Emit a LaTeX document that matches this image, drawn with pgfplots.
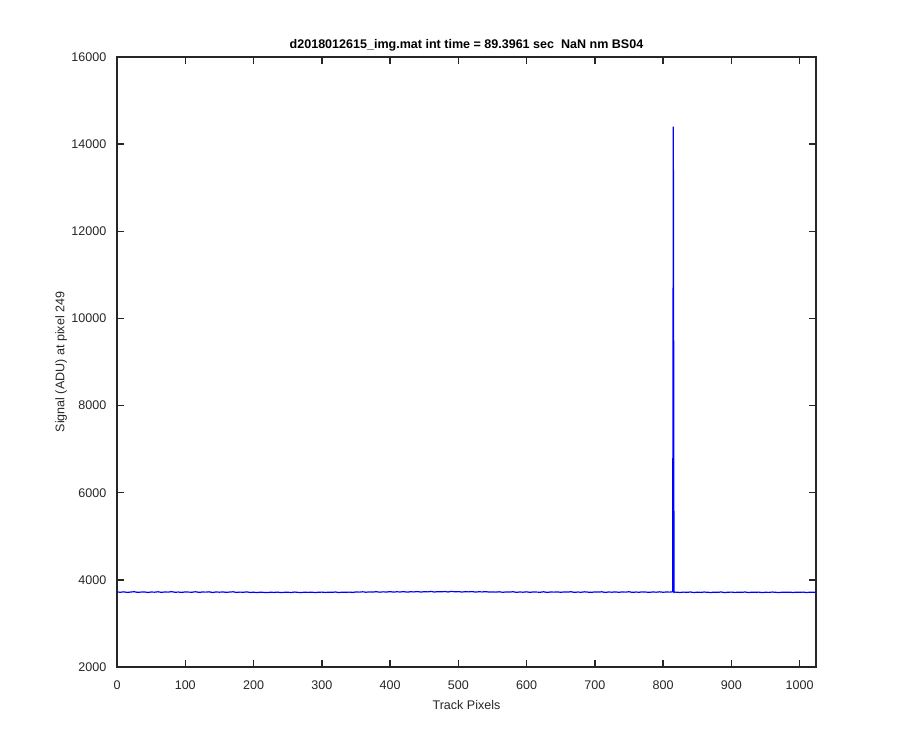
\documentclass[border=0pt]{standalone}
\usepackage{pgfplots}
\pgfplotsset{compat=1.18}
\usepackage{fontspec}
\setmainfont{Liberation Sans}
\definecolor{axgray}{gray}{0.15}
\begin{document}
\begin{tikzpicture}[x=1pt,y=1pt]
\path[use as bounding box] (0,0) rectangle (675,562.5);
\begin{axis}[
  at={(87.75pt,62.25pt)}, anchor=south west,
  scale only axis, width=524.25pt, height=457.5pt,
  xmin=0, xmax=1024, ymin=2000, ymax=16000,
  xtick={0,100,...,1000}, ytick={2000,4000,...,16000},
  tick align=inside, major tick length=5pt,
  axis line style={axgray, line width=1.1pt},
  every tick/.style={axgray, line width=1.1pt},
  tick label style={axgray},
  xticklabel style={yshift=-6.5pt},
  yticklabel style={xshift=-4.5pt},
  font=\fontsize{9.4}{11}\selectfont,
  /pgf/number format/assume math mode=true,
  /pgf/number format/1000 sep={},
  scaled ticks=false,
  xlabel={Track Pixels}, ylabel={Signal (ADU) at pixel 249},
  xlabel style={axgray, at={(axis description cs:0.5,-0.0623)}, anchor=center},
  ylabel style={axgray, at={(axis description cs:-0.080,0.5)}, anchor=center},
  title={\bfseries d2018012615\_img.mat int time = 89.3961 sec\ \ NaN nm BS04},
  title style={at={(axis description cs:0.5,1.0066)}, anchor=center},
]
\addplot[blue, line width=0.9pt, mark=none] coordinates {
(0,3722)(5,3716)(10,3725)(15,3712)(20,3720)(25,3728)(30,3714)(35,3719)(40,3724)(45,3711)(50,3721)(55,3717)(60,3726)(65,3713)(70,3722)(75,3718)(80,3729)(85,3715)(90,3720)(95,3712)(100,3724)(105,3719)(110,3716)(115,3727)(120,3713)(125,3721)(130,3718)(135,3725)(140,3710)(145,3722)(150,3717)(155,3723)(160,3714)(165,3720)(170,3726)(175,3712)(180,3719)(185,3715)(190,3724)(195,3711)
(200,3716)(205,3709)(210,3718)(215,3712)(220,3707)(225,3717)(230,3711)(235,3719)(240,3708)(245,3714)(250,3716)(255,3710)(260,3720)(265,3713)(270,3709)(275,3717)(280,3712)(285,3718)(290,3708)(295,3715)(300,3719)(305,3711)(310,3716)(315,3713)(320,3721)(325,3710)(330,3717)(335,3714)(340,3719)(345,3712)
(350,3722)(355,3718)(360,3726)(365,3716)(370,3724)(375,3720)(380,3728)(385,3717)(390,3725)(395,3721)(400,3729)(405,3719)(410,3726)(415,3722)(420,3730)(425,3718)(430,3727)(435,3723)(440,3731)(445,3720)(450,3728)(455,3724)(460,3733)(465,3721)(470,3729)(475,3725)(480,3732)(485,3722)(490,3736)(495,3726)(500,3730)(505,3721)(510,3728)(515,3724)(520,3731)(525,3719)(530,3727)(535,3723)(540,3729)(545,3720)
(550,3724)(555,3718)(560,3726)(565,3715)(570,3722)(575,3719)(580,3727)(585,3714)(590,3721)(595,3717)(600,3725)(605,3713)(610,3723)(615,3719)(620,3716)(625,3726)(630,3712)(635,3721)(640,3718)(645,3724)(650,3715)(655,3722)(660,3719)(665,3727)(670,3713)(675,3720)(680,3716)(685,3725)(690,3718)(695,3714)(700,3723)(705,3719)(710,3726)(715,3712)(720,3721)(725,3717)(730,3724)(735,3715)(740,3722)(745,3718)(750,3727)(755,3713)(760,3720)(765,3716)(770,3724)(775,3719)(780,3714)(785,3722)(790,3717)(795,3725)(800,3716)(805,3721)(810,3718)(812,3722)(814,3728)(815,14400)(816,3712)(818,3719)(820,3716)
(825,3711)(830,3719)(835,3714)(840,3721)(845,3709)(850,3717)(855,3712)(860,3720)(865,3715)(870,3710)(875,3718)(880,3713)(885,3722)(890,3708)(895,3716)(900,3719)(905,3711)(910,3717)(915,3713)(920,3721)(925,3710)(930,3716)(935,3714)(940,3719)(945,3708)(950,3715)(955,3712)(960,3720)(965,3714)(970,3709)(975,3717)(980,3713)(985,3718)(990,3711)(995,3716)(1000,3714)(1005,3719)(1010,3710)(1015,3716)(1020,3713)(1023,3717)
};
\end{axis}
\end{tikzpicture}
\end{document}
